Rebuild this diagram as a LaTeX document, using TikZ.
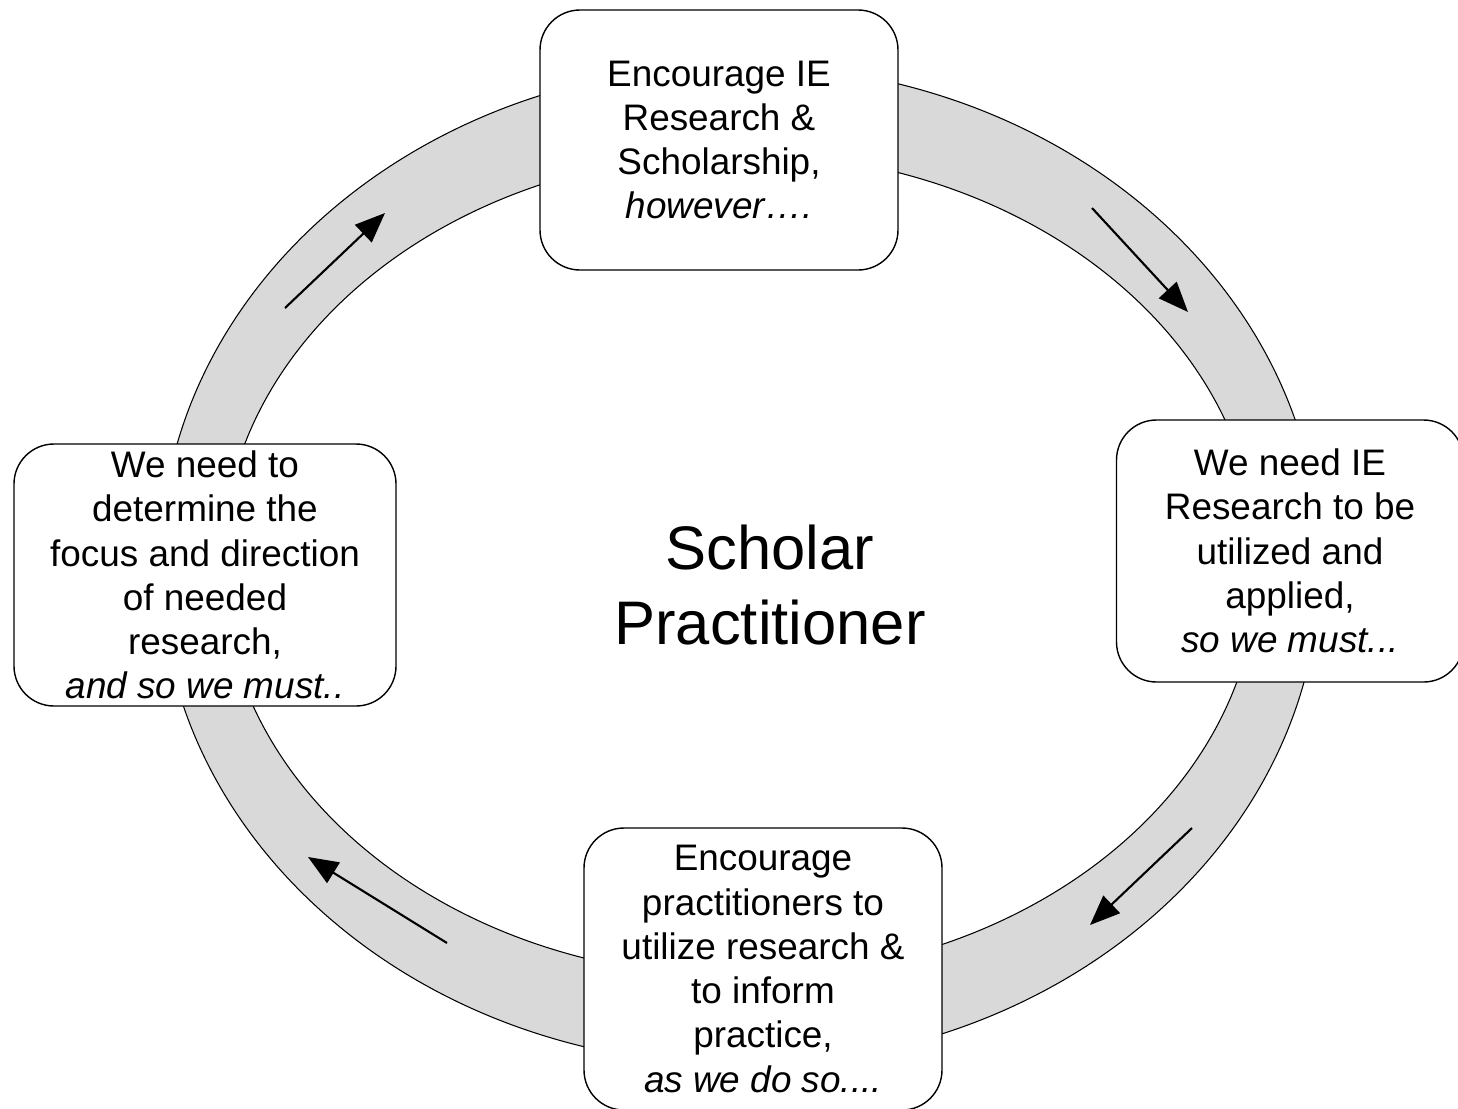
\documentclass[tikz,border=0pt]{standalone}
\usepackage{fontspec}
\setmainfont{Liberation Sans}
\usetikzlibrary{arrows.meta}
\tikzset{
  stagebox/.style={draw, line width=0.8pt, fill=white, rounded corners=0.8cm,
    align=center, inner sep=0pt, font=\fontsize{21}{25.2}\selectfont},
  cyclearrow/.style={-{Triangle[length=0.6cm,width=0.48cm]}, line width=1.2pt}
}
\begin{document}
\begin{tikzpicture}
\useasboundingbox (0,0) rectangle (29.16,-22.16);
\fill[black!15, even odd rule] (14.8,-11.3) ellipse [x radius=11.6, y radius=10.0]
  (14.8,-11.3) ellipse [x radius=10.36, y radius=8.24];
\draw[line width=0.6pt] (14.8,-11.3) ellipse [x radius=11.6, y radius=10.0];
\draw[line width=0.6pt] (14.8,-11.3) ellipse [x radius=10.36, y radius=8.24];

\node[stagebox, minimum width=7.16cm, minimum height=5.2cm] (research) at (14.38,-2.8)
  {Encourage IE\\Research \&\\Scholarship,\\\textit{however….}};
\node[stagebox, minimum width=6.94cm, minimum height=5.24cm] (applied) at (25.8,-11.02)
  {We need IE\\Research to be\\utilized and\\applied,\\\textit{so we must...}};
\node[stagebox, minimum width=7.16cm, minimum height=5.64cm] (practice) at (15.26,-19.38)
  {Encourage\\practitioners to\\utilize research \&\\to inform\\practice,\\\textit{as we do so....}};
\node[stagebox, minimum width=7.64cm, minimum height=5.24cm] (direction) at (4.1,-11.5)
  {We need to\\determine the\\focus and direction\\of needed\\research,\\\textit{and so we must..}};

\node[align=center, font=\fontsize{35}{43}\selectfont] (scholar) at (15.4,-11.7) {Scholar\\Practitioner};

\coordinate (a1) at (5.7,-6.16);   \coordinate (a2) at (7.7,-4.26);
\coordinate (b1) at (21.84,-4.16); \coordinate (b2) at (23.76,-6.24);
\coordinate (c1) at (23.84,-16.56);\coordinate (c2) at (21.8,-18.5);
\coordinate (d1) at (8.94,-18.86); \coordinate (d2) at (6.16,-17.14);

\draw[cyclearrow] (a1) -- (a2);
\draw[cyclearrow] (b1) -- (b2);
\draw[cyclearrow] (c1) -- (c2);
\draw[cyclearrow] (d1) -- (d2);
\end{tikzpicture}
\end{document}
